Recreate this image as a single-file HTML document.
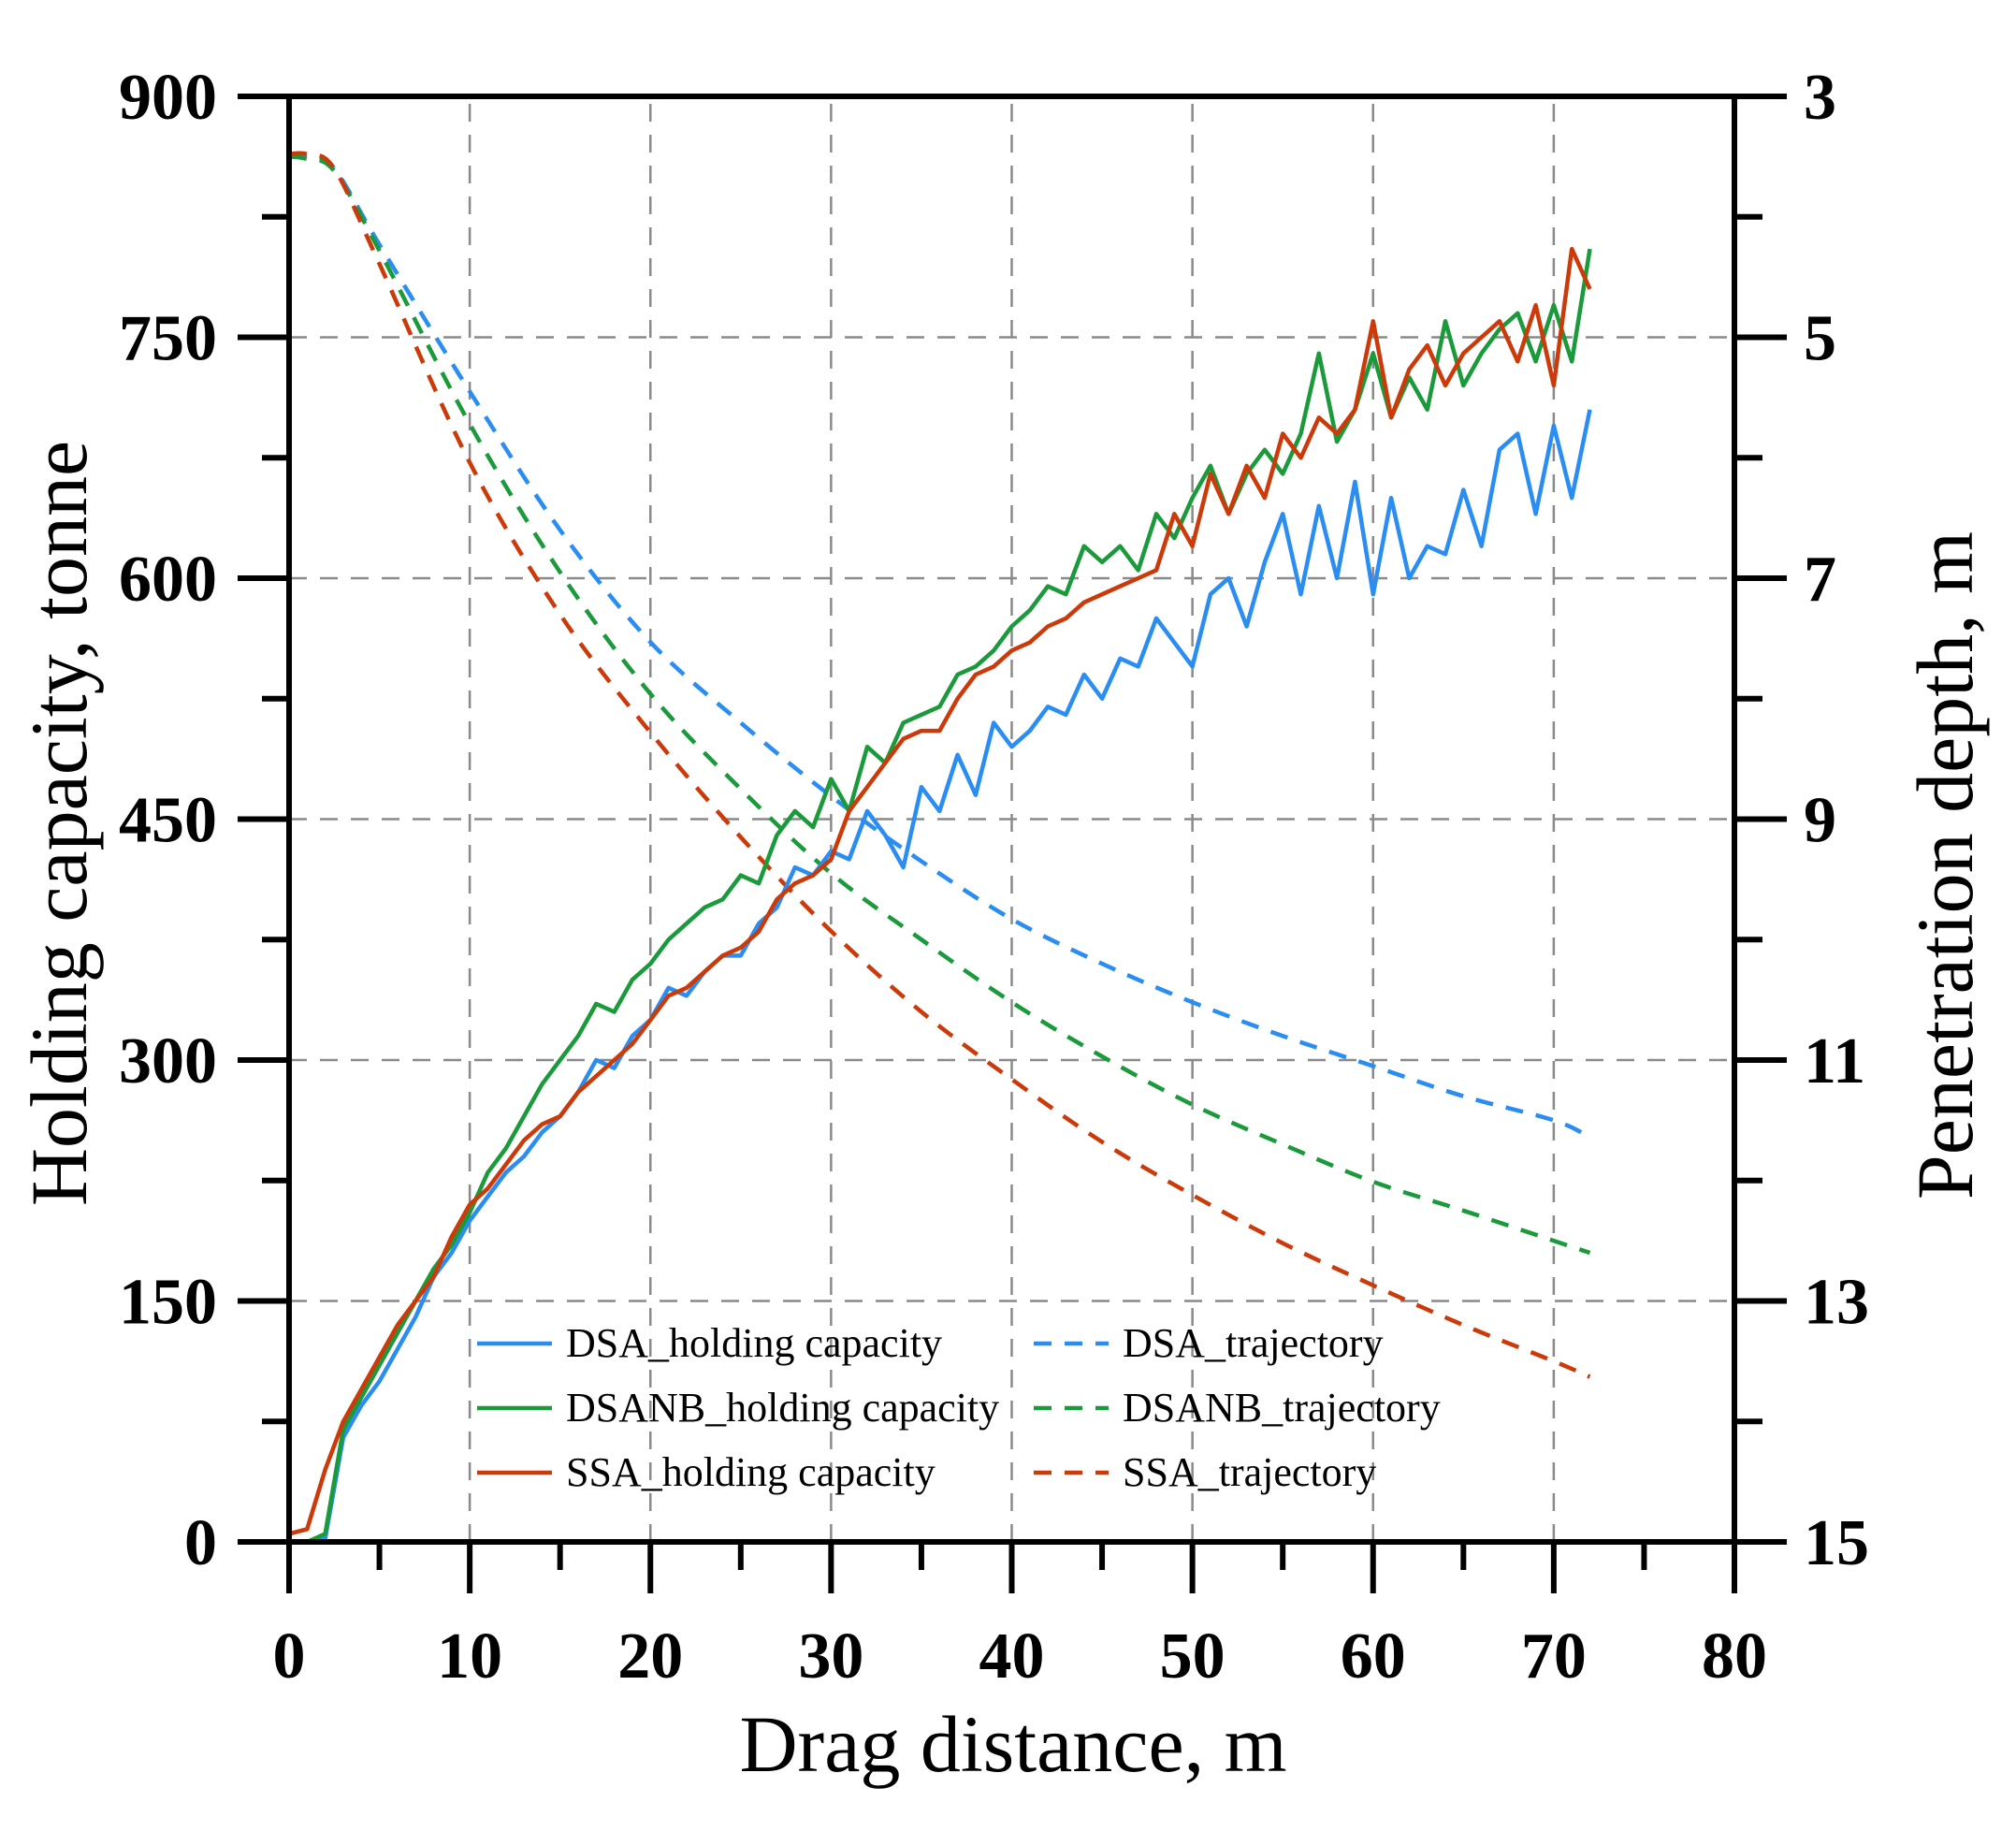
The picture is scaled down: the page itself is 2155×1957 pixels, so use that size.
<!DOCTYPE html>
<html><head><meta charset="utf-8"><style>
html,body{margin:0;padding:0;background:#fff}
svg{display:block}
text{font-family:"Liberation Serif",serif;fill:#000}
</style></head><body>
<svg id="chart" width="2155" height="1957" viewBox="0 0 2155 1957">
<g id="grid"></g>
<g id="series"></g>
<g id="axes"></g>
<g id="legend"></g>
<text transform="translate(92,880) rotate(-90)" text-anchor="middle" font-size="86">Holding capacity, tonne</text>
<text transform="translate(2108,925) rotate(-90)" text-anchor="middle" font-size="86">Penetration depth, m</text>
<text x="1083" y="1893" text-anchor="middle" font-size="86">Drag distance, m</text>
</svg>
<script>
const xTicks=[0,10,20,30,40,50,60,70,80];
const yTicks=[0,150,300,450,600,750,900];
const y2Ticks=[3,5,7,9,11,13,15];
const dsaCap=[0,0,2,65,85,100,120,140,165,180,200,215,230,240,255,265,280,300,295,315,325,345,340,355,365,365,385,395,420,415,430,425,455,440,420,470,455,490,465,510,495,505,520,515,540,525,550,545,575,560,545,590,600,570,610,640,590,645,600,660,590,650,600,620,615,655,620,680,690,640,695,650,705];
const dsanbCap=[0,0,5,70,90,110,130,150,170,185,205,230,245,265,285,300,315,335,330,350,360,375,385,395,400,415,410,440,455,445,475,455,495,485,510,515,520,540,545,555,570,580,595,590,620,610,620,605,640,625,650,670,640,665,680,665,690,740,685,705,740,700,725,705,760,720,740,755,765,735,770,735,805];
const ssaCap=[5,8,45,75,95,115,135,150,165,190,210,220,235,250,260,265,280,290,300,310,325,340,345,355,365,370,380,400,410,415,425,455,470,485,500,505,505,525,540,545,555,560,570,575,585,590,595,600,605,640,620,665,640,670,650,690,675,700,690,705,760,700,730,745,720,740,750,760,735,770,720,805,780];
const trajX=[0,1,2.5,5,10,15,20,25,30,35,40,45,50,55,60,65,70,72];
const dsaTraj=[3.5,3.5,3.6,4.23,5.45,6.6,7.53,8.2,8.81,9.35,9.83,10.2,10.52,10.8,11.05,11.3,11.5,11.64];
const dsanbTraj=[3.5,3.52,3.62,4.28,5.72,6.95,7.96,8.75,9.45,10.0,10.52,10.97,11.37,11.7,12.01,12.25,12.5,12.6];
const ssaTraj=[3.48,3.48,3.6,4.39,6.04,7.3,8.28,9.15,9.93,10.6,11.16,11.68,12.12,12.52,12.87,13.2,13.5,13.63];

const NS='http://www.w3.org/2000/svg';
const L=309,R=1854,T=103,B=1648;
const xs=v=>L+(v-0)/(80-0)*(R-L);
const ys=v=>B-(v-0)/(900-0)*(B-T);
const y2s=v=>T+(v-3)/(15-3)*(B-T);
function mk(tag,attrs,parent){const e=document.createElementNS(NS,tag);for(const k in attrs)e.setAttribute(k,attrs[k]);parent.appendChild(e);return e;}
const grid=document.getElementById('grid'),series=document.getElementById('series'),axes=document.getElementById('axes'),legend=document.getElementById('legend');
const gstyle={stroke:'#8a8a8a','stroke-width':2.5,'stroke-dasharray':'19 14',fill:'none'};
xTicks.slice(1,-1).forEach(v=>{const l=mk('line',Object.assign({x1:xs(v),x2:xs(v),y1:B,y2:T},gstyle),grid);

});
yTicks.slice(1,-1).forEach(v=>{const l=mk('line',Object.assign({x1:L,x2:R,y1:ys(v),y2:ys(v)},gstyle),grid);

});
function capLine(arr,color,name){const d=arr.map((v,i)=>(i?'L':'M')+xs(i).toFixed(1)+','+ys(v).toFixed(1)).join('');
const p=mk('path',{d:d,stroke:color,'stroke-width':4.5,fill:'none','stroke-linejoin':'round'},series);

}
function trajLine(arr,color,name){
const pts=trajX.map((x,i)=>[xs(x),y2s(arr[i])]);let d='M'+pts[0][0]+','+pts[0][1];
for(let i=0;i<pts.length-1;i++){const p0=pts[i-1]||pts[i],p1=pts[i],p2=pts[i+1],p3=pts[i+2]||p2;
d+='C'+(p1[0]+(p2[0]-p0[0])/6)+','+(p1[1]+(p2[1]-p0[1])/6)+' '+(p2[0]-(p3[0]-p1[0])/6)+','+(p2[1]-(p3[1]-p1[1])/6)+' '+p2[0]+','+p2[1];}
const p=mk('path',{d:d,stroke:color,'stroke-width':4.5,fill:'none','stroke-dasharray':'19 14'},series);

}
const cB='#2a8df2',cG='#1a9a3a',cR='#cc3a0a';
trajLine(dsaTraj,cB,'dsa-trajectory-line');trajLine(dsanbTraj,cG,'dsanb-trajectory-line');trajLine(ssaTraj,cR,'ssa-trajectory-line');
capLine(dsaCap,cB,'dsa-holding-line');capLine(dsanbCap,cG,'dsanb-holding-line');capLine(ssaCap,cR,'ssa-holding-line');
const ast={stroke:'#000','stroke-width':6,fill:'none'};
mk('rect',Object.assign({x:L,y:T,width:R-L,height:B-T},ast),axes);
for(let v=0;v<=80;v+=5){const M=v%10===0;mk('line',Object.assign({x1:xs(v),x2:xs(v),y1:B,y2:B+(M?55:30)},ast),axes);}
xTicks.forEach(v=>{const t=mk('text',{x:xs(v),y:B+145,'text-anchor':'middle','font-size':70,'font-weight':'bold'},axes);t.textContent=v;

});
for(let v=0;v<=900;v+=75){const M=v%150===0;mk('line',Object.assign({x1:L,x2:L-(M?55:29),y1:ys(v),y2:ys(v)},ast),axes);}
yTicks.forEach(v=>{const t=mk('text',{x:232,y:ys(v)+24,'text-anchor':'end','font-size':70,'font-weight':'bold'},axes);t.textContent=v;

});
for(let v=3;v<=15;v+=1){const M=(v%2)===1;mk('line',Object.assign({x1:R,x2:R+(M?56:30),y1:y2s(v),y2:y2s(v)},ast),axes);}
y2Ticks.forEach(v=>{const t=mk('text',{x:1928,y:y2s(v)+24,'text-anchor':'start','font-size':70,'font-weight':'bold'},axes);t.textContent=v;

});
const legItems=[['DSA_holding capacity',cB,false,510,1436],['DSANB_holding capacity',cG,false,510,1505],['SSA_holding capacity',cR,false,510,1574],['DSA_trajectory',cB,true,1105,1436],['DSANB_trajectory',cG,true,1105,1505],['SSA_trajectory',cR,true,1105,1574]];
legItems.forEach(it=>{const g=mk('g',{},legend);


const a={x1:it[3],x2:it[3]+80,y1:it[4],y2:it[4],stroke:it[1],'stroke-width':4.5};if(it[2])a['stroke-dasharray']='19 14';mk('line',a,g);
const t=mk('text',{x:it[3]+95,y:it[4]+14,'font-size':44},g);t.textContent=it[0];});
</script>
</body></html>
